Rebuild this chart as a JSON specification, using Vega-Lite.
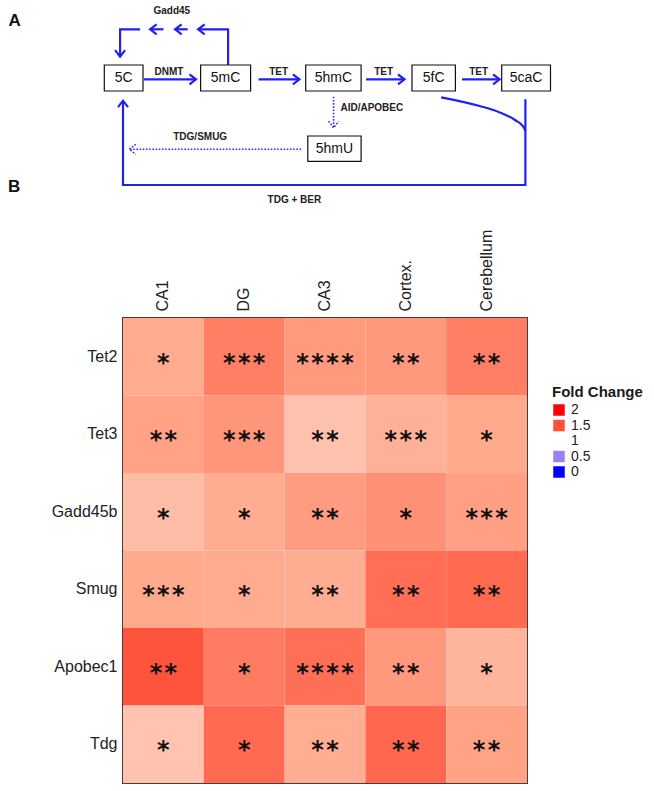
{
  "$schema": "https://vega.github.io/schema/vega-lite/v6.json",
  "width": 404,
  "height": 465,
  "autosize": {"type": "none"},
  "padding": {"left": 123, "top": 318, "right": 127, "bottom": 8},
  "background": "white",
  "config": {
    "font": "Liberation Sans",
    "view": {"stroke": "#4d3b35", "strokeWidth": 2},
    "axis": {"domain": false, "ticks": false, "grid": false, "labelColor": "#222222", "labelFont": "Liberation Sans", "labelFontSize": 16, "title": null}
  },
  "datasets": {
    "cells": [
      {"gene": "Tet2", "region": "CA1", "fc": 1.247, "stars": "*"},
      {"gene": "Tet2", "region": "DG", "fc": 1.369, "stars": "*\u200a*\u200a*"},
      {"gene": "Tet2", "region": "CA3", "fc": 1.294, "stars": "*\u200a*\u200a*\u200a*"},
      {"gene": "Tet2", "region": "Cortex.", "fc": 1.297, "stars": "*\u200a*"},
      {"gene": "Tet2", "region": "Cerebellum", "fc": 1.369, "stars": "*\u200a*"},
      {"gene": "Tet3", "region": "CA1", "fc": 1.272, "stars": "*\u200a*"},
      {"gene": "Tet3", "region": "DG", "fc": 1.308, "stars": "*\u200a*\u200a*"},
      {"gene": "Tet3", "region": "CA3", "fc": 1.179, "stars": "*\u200a*"},
      {"gene": "Tet3", "region": "Cortex.", "fc": 1.229, "stars": "*\u200a*\u200a*"},
      {"gene": "Tet3", "region": "Cerebellum", "fc": 1.253, "stars": "*"},
      {"gene": "Gadd45b", "region": "CA1", "fc": 1.194, "stars": "*"},
      {"gene": "Gadd45b", "region": "DG", "fc": 1.241, "stars": "*"},
      {"gene": "Gadd45b", "region": "CA3", "fc": 1.292, "stars": "*\u200a*"},
      {"gene": "Gadd45b", "region": "Cortex.", "fc": 1.322, "stars": "*"},
      {"gene": "Gadd45b", "region": "Cerebellum", "fc": 1.278, "stars": "*\u200a*\u200a*"},
      {"gene": "Smug", "region": "CA1", "fc": 1.253, "stars": "*\u200a*\u200a*"},
      {"gene": "Smug", "region": "DG", "fc": 1.247, "stars": "*"},
      {"gene": "Smug", "region": "CA3", "fc": 1.241, "stars": "*\u200a*"},
      {"gene": "Smug", "region": "Cortex.", "fc": 1.417, "stars": "*\u200a*"},
      {"gene": "Smug", "region": "Cerebellum", "fc": 1.428, "stars": "*\u200a*"},
      {"gene": "Apobec1", "region": "CA1", "fc": 1.489, "stars": "*\u200a*"},
      {"gene": "Apobec1", "region": "DG", "fc": 1.378, "stars": "*"},
      {"gene": "Apobec1", "region": "CA3", "fc": 1.414, "stars": "*\u200a*\u200a*\u200a*"},
      {"gene": "Apobec1", "region": "Cortex.", "fc": 1.30, "stars": "*\u200a*"},
      {"gene": "Apobec1", "region": "Cerebellum", "fc": 1.221, "stars": "*"},
      {"gene": "Tdg", "region": "CA1", "fc": 1.176, "stars": "*"},
      {"gene": "Tdg", "region": "DG", "fc": 1.428, "stars": "*"},
      {"gene": "Tdg", "region": "CA3", "fc": 1.238, "stars": "*\u200a*"},
      {"gene": "Tdg", "region": "Cortex.", "fc": 1.433, "stars": "*\u200a*"},
      {"gene": "Tdg", "region": "Cerebellum", "fc": 1.269, "stars": "*\u200a*"}
    ],
    "solidPaths": [
      {"seg": "dnmt", "i": 0, "x": 28.78, "y": 15.86}, {"seg": "dnmt", "i": 1, "x": 39.2, "y": 15.86},
      {"seg": "dnmtH", "i": 0, "x": 37.9, "y": 14.86}, {"seg": "dnmtH", "i": 1, "x": 39.2, "y": 15.86}, {"seg": "dnmtH", "i": 2, "x": 37.9, "y": 16.86},
      {"seg": "tet1", "i": 0, "x": 51.7, "y": 15.86}, {"seg": "tet1", "i": 1, "x": 59.88, "y": 15.86},
      {"seg": "tet1H", "i": 0, "x": 58.58, "y": 14.86}, {"seg": "tet1H", "i": 1, "x": 59.88, "y": 15.86}, {"seg": "tet1H", "i": 2, "x": 58.58, "y": 16.86},
      {"seg": "tet2", "i": 0, "x": 73.22, "y": 15.86}, {"seg": "tet2", "i": 1, "x": 80.9, "y": 15.86},
      {"seg": "tet2H", "i": 0, "x": 79.6, "y": 14.86}, {"seg": "tet2H", "i": 1, "x": 80.9, "y": 15.86}, {"seg": "tet2H", "i": 2, "x": 79.6, "y": 16.86},
      {"seg": "tet3", "i": 0, "x": 92.4, "y": 15.86}, {"seg": "tet3", "i": 1, "x": 99.92, "y": 15.86},
      {"seg": "tet3H", "i": 0, "x": 98.62, "y": 14.86}, {"seg": "tet3H", "i": 1, "x": 99.92, "y": 15.86}, {"seg": "tet3H", "i": 2, "x": 98.62, "y": 16.86},
      {"seg": "g1", "i": 0, "x": 45.62, "y": 13.0}, {"seg": "g1", "i": 1, "x": 45.62, "y": 5.86}, {"seg": "g1", "i": 2, "x": 39.62, "y": 5.86},
      {"seg": "g1H", "i": 0, "x": 40.92, "y": 4.86}, {"seg": "g1H", "i": 1, "x": 39.62, "y": 5.86}, {"seg": "g1H", "i": 2, "x": 40.92, "y": 6.86},
      {"seg": "g2", "i": 0, "x": 37.54, "y": 5.86}, {"seg": "g2", "i": 1, "x": 35.02, "y": 5.86},
      {"seg": "g2H", "i": 0, "x": 36.32, "y": 4.86}, {"seg": "g2H", "i": 1, "x": 35.02, "y": 5.86}, {"seg": "g2H", "i": 2, "x": 36.32, "y": 6.86},
      {"seg": "g3", "i": 0, "x": 32.7, "y": 5.86}, {"seg": "g3", "i": 1, "x": 30.02, "y": 5.86},
      {"seg": "g3H", "i": 0, "x": 31.32, "y": 4.86}, {"seg": "g3H", "i": 1, "x": 30.02, "y": 5.86}, {"seg": "g3H", "i": 2, "x": 31.32, "y": 6.86},
      {"seg": "g4", "i": 0, "x": 28.02, "y": 5.86}, {"seg": "g4", "i": 1, "x": 24.02, "y": 5.86}, {"seg": "g4", "i": 2, "x": 24.02, "y": 11.34},
      {"seg": "g4H", "i": 0, "x": 23.02, "y": 10.04}, {"seg": "g4H", "i": 1, "x": 24.02, "y": 11.34}, {"seg": "g4H", "i": 2, "x": 25.02, "y": 10.04},
      {"seg": "big", "i": 0, "x": 105.08, "y": 19.86}, {"seg": "big", "i": 1, "x": 105.08, "y": 37.0}, {"seg": "big", "i": 2, "x": 24.6, "y": 37.0}, {"seg": "big", "i": 3, "x": 24.6, "y": 20.14},
      {"seg": "bigH", "i": 0, "x": 23.6, "y": 21.44}, {"seg": "bigH", "i": 1, "x": 24.6, "y": 20.14}, {"seg": "bigH", "i": 2, "x": 25.6, "y": 21.44}
    ],
    "curve": [
      {"i": 0, "x": 88.24, "y": 19.46},
      {"i": 1, "x": 95.92, "y": 21.2},
      {"i": 2, "x": 100.08, "y": 22.54},
      {"i": 3, "x": 103.0, "y": 24.0},
      {"i": 4, "x": 104.66, "y": 25.34},
      {"i": 5, "x": 105.08, "y": 26.14}
    ],
    "dottedPaths": [
      {"seg": "aid", "i": 0, "x": 66.72, "y": 19.34}, {"seg": "aid", "i": 1, "x": 66.72, "y": 25.56},
      {"seg": "aidH", "i": 0, "x": 65.72, "y": 24.26}, {"seg": "aidH", "i": 1, "x": 66.72, "y": 25.56}, {"seg": "aidH", "i": 2, "x": 67.72, "y": 24.26},
      {"seg": "tdg", "i": 0, "x": 60.22, "y": 29.86}, {"seg": "tdg", "i": 1, "x": 25.86, "y": 29.86},
      {"seg": "tdgH", "i": 0, "x": 27.16, "y": 28.86}, {"seg": "tdgH", "i": 1, "x": 25.86, "y": 29.86}, {"seg": "tdgH", "i": 2, "x": 27.16, "y": 30.86}
    ],
    "boxes": [
      {"name": "5C", "x1": 20.86, "x2": 28.6, "y1": 13.0, "y2": 18.2, "cx": 24.73, "cy": 15.6},
      {"name": "5mC", "x1": 40.12, "x2": 50.12, "y1": 13.0, "y2": 18.2, "cx": 45.12, "cy": 15.6},
      {"name": "5hmC", "x1": 61.14, "x2": 72.22, "y1": 13.0, "y2": 18.2, "cx": 66.68, "cy": 15.6},
      {"name": "5fC", "x1": 82.4, "x2": 91.08, "y1": 13.0, "y2": 18.2, "cx": 86.74, "cy": 15.6},
      {"name": "5caC", "x1": 100.34, "x2": 110.1, "y1": 13.0, "y2": 18.2, "cx": 105.22, "cy": 15.6},
      {"name": "5hmU", "x1": 61.56, "x2": 72.22, "y1": 27.2, "y2": 32.26, "cx": 66.89, "cy": 29.73}
    ],
    "labels": [
      {"t": "DNMT", "x": 33.78, "y": 14.34},
      {"t": "TET", "x": 55.72, "y": 14.4},
      {"t": "TET", "x": 76.74, "y": 14.46},
      {"t": "TET", "x": 95.74, "y": 14.4},
      {"t": "Gadd45", "x": 34.36, "y": 2.14},
      {"t": "AID/APOBEC", "x": 74.36, "y": 21.66},
      {"t": "TDG/SMUG", "x": 40.04, "y": 27.46},
      {"t": "TDG + BER", "x": 58.88, "y": 40.0}
    ],
    "panels": [
      {"t": "A", "x": 2.92, "y": 4.14},
      {"t": "B", "x": 2.84, "y": 37.34}
    ]
  },
  "layer": [
    {
      "data": {"name": "cells"},
      "encoding": {
        "x": {"field": "region", "type": "nominal", "sort": ["CA1", "DG", "CA3", "Cortex.", "Cerebellum"], "scale": {"paddingInner": 0, "paddingOuter": 0}, "axis": {"orient": "top", "labelAngle": -90, "labelPadding": 7}},
        "y": {"field": "gene", "type": "nominal", "sort": ["Tet2", "Tet3", "Gadd45b", "Smug", "Apobec1", "Tdg"], "scale": {"paddingInner": 0, "paddingOuter": 0}, "axis": {"labelPadding": 6}}
      },
      "layer": [
        {
          "mark": {"type": "rect"},
          "encoding": {
            "color": {
              "field": "fc", "type": "quantitative",
              "scale": {"domain": [0, 0.5, 1, 1.25, 1.5, 2], "range": ["#0000ff", "#9c80f7", "#ffffff", "#ffaa8e", "#ff5038", "#ff0000"], "interpolate": "rgb", "zero": false, "nice": false},
              "legend": {
                "type": "symbol", "values": [2, 1.5, 1, 0.5, 0], "title": "Fold Change", "format": "~g",
                "orient": "none", "legendX": 429, "legendY": 67, "padding": 0,
                "symbolType": "square", "symbolSize": 132, "symbolStrokeWidth": 0, "symbolOpacity": 1,
                "labelFontSize": 14, "labelColor": "#222222", "labelOffset": 5, "rowPadding": 1.5,
                "titleFontSize": 15, "titleFontWeight": "bold", "titleColor": "#1a1a1a", "titlePadding": 3
              }
            }
          }
        },
        {
          "mark": {"type": "text", "font": "DejaVu Sans", "fontSize": 24, "fontWeight": "bold", "color": "#111111", "baseline": "middle", "dy": 7},
          "encoding": {"text": {"field": "stars"}}
        }
      ]
    },
    {
      "layer": [
        {
          "data": {"name": "solidPaths"},
          "mark": {"type": "line", "color": "#2020f0", "strokeWidth": 2.2, "strokeJoin": "miter", "strokeCap": "butt"},
          "encoding": {
            "x": {"field": "x", "type": "quantitative", "scale": {"domain": [0, 130.8], "range": [-123, 531], "nice": false, "zero": false}, "axis": null},
            "y": {"field": "y", "type": "quantitative", "scale": {"domain": [0, 42], "range": [-318, -108], "nice": false, "zero": false}, "axis": null},
            "detail": {"field": "seg"},
            "order": {"field": "i"}
          }
        },
        {
          "data": {"name": "curve"},
          "mark": {"type": "line", "color": "#2020f0", "strokeWidth": 2.2, "interpolate": "monotone"},
          "encoding": {
            "x": {"field": "x", "type": "quantitative"},
            "y": {"field": "y", "type": "quantitative"},
            "order": {"field": "i"}
          }
        },
        {
          "data": {"name": "dottedPaths"},
          "mark": {"type": "line", "color": "#3030f0", "strokeWidth": 1.6, "strokeDash": [1.6, 1.6]},
          "encoding": {
            "x": {"field": "x", "type": "quantitative"},
            "y": {"field": "y", "type": "quantitative"},
            "detail": {"field": "seg"},
            "order": {"field": "i"}
          }
        },
        {
          "data": {"name": "boxes"},
          "mark": {"type": "rect", "fill": "white", "stroke": "#111111", "strokeWidth": 1.2},
          "encoding": {
            "x": {"field": "x1", "type": "quantitative"},
            "x2": {"field": "x2"},
            "y": {"field": "y1", "type": "quantitative"},
            "y2": {"field": "y2"}
          }
        },
        {
          "data": {"name": "boxes"},
          "mark": {"type": "text", "font": "Liberation Sans", "fontSize": 14, "color": "#111111", "baseline": "middle"},
          "encoding": {
            "x": {"field": "cx", "type": "quantitative"},
            "y": {"field": "cy", "type": "quantitative"},
            "text": {"field": "name"}
          }
        },
        {
          "data": {"name": "labels"},
          "mark": {"type": "text", "font": "Liberation Sans", "fontSize": 10, "fontWeight": "bold", "color": "#222222", "baseline": "middle"},
          "encoding": {
            "x": {"field": "x", "type": "quantitative"},
            "y": {"field": "y", "type": "quantitative"},
            "text": {"field": "t"}
          }
        },
        {
          "data": {"name": "panels"},
          "mark": {"type": "text", "font": "Liberation Sans", "fontSize": 17, "fontWeight": "bold", "color": "#111111", "baseline": "middle"},
          "encoding": {
            "x": {"field": "x", "type": "quantitative"},
            "y": {"field": "y", "type": "quantitative"},
            "text": {"field": "t"}
          }
        }
      ]
    }
  ],
  "resolve": {"scale": {"x": "independent", "y": "independent"}, "axis": {"x": "independent", "y": "independent"}}
}
